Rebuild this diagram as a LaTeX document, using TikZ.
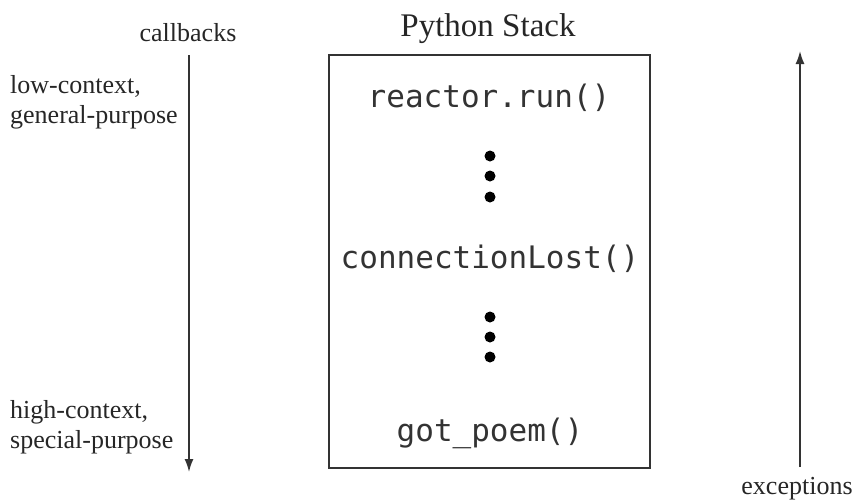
\documentclass[tikz,border=0pt]{standalone}
\usepackage{fontspec}
\setmainfont{Liberation Serif}
\setmonofont{DejaVu Sans Mono}
\usetikzlibrary{arrows.meta}

\tikzset{
  label/.style={inner sep=0pt, font=\fontsize{26}{30}\selectfont, text=black!85},
  title/.style={inner sep=0pt, font=\fontsize{33}{38}\selectfont, text=black!85},
  frame/.style={inner sep=0pt, text=black!80, font=\ttfamily\fontsize{31}{36}\selectfont},
  stackbox/.style={draw=black!80, line width=1.5pt, inner sep=0pt},
  flow/.style={draw=black!80, line width=1.6pt, -{Latex[length=13pt,width=9pt]}},
  dot/.style={fill=black},
}

\begin{document}
\begin{tikzpicture}[x=1pt,y=-1pt]
  \useasboundingbox (0,0) rectangle (856,501);

  % the stack frame
  \node[stackbox, minimum width=321pt, minimum height=413pt] (stack) at (489.5,261.5) {};
  \node[title, anchor=base] (stacktitle) at (488,36) {Python Stack};

  \node[frame, anchor=base] (run)  at (489,107) {reactor.run()};
  \node[frame, anchor=base] (lost) at (490,268) {connectionLost()};
  \node[frame, anchor=base] (poem) at (490,441) {got\_poem()};

  % elided frames
  \foreach \yy in {156,176,197,317,337,357}
    \fill[dot] (490,\yy) circle (5.5pt);

  % callbacks flow downward
  \coordinate (cbtop) at (189,55);
  \coordinate (cbbot) at (189,472);
  \draw[flow] (cbtop) -- (cbbot);
  \node[label, anchor=base] (callbacks) at (188,41) {callbacks};

  \node[label, anchor=base west] (lowA) at (10,93) {low-context,};
  \node[label, anchor=base west] (lowB) at (10,123) {general-purpose};
  \node[label, anchor=base west] (highA) at (10,418) {high-context,};
  \node[label, anchor=base west] (highB) at (10,448) {special-purpose};

  % exceptions flow upward
  \coordinate (exbot) at (800,467);
  \coordinate (extop) at (800,51);
  \draw[flow] (exbot) -- (extop);
  \node[label, anchor=base] (exceptions) at (797,494) {exceptions};
\end{tikzpicture}
\end{document}
